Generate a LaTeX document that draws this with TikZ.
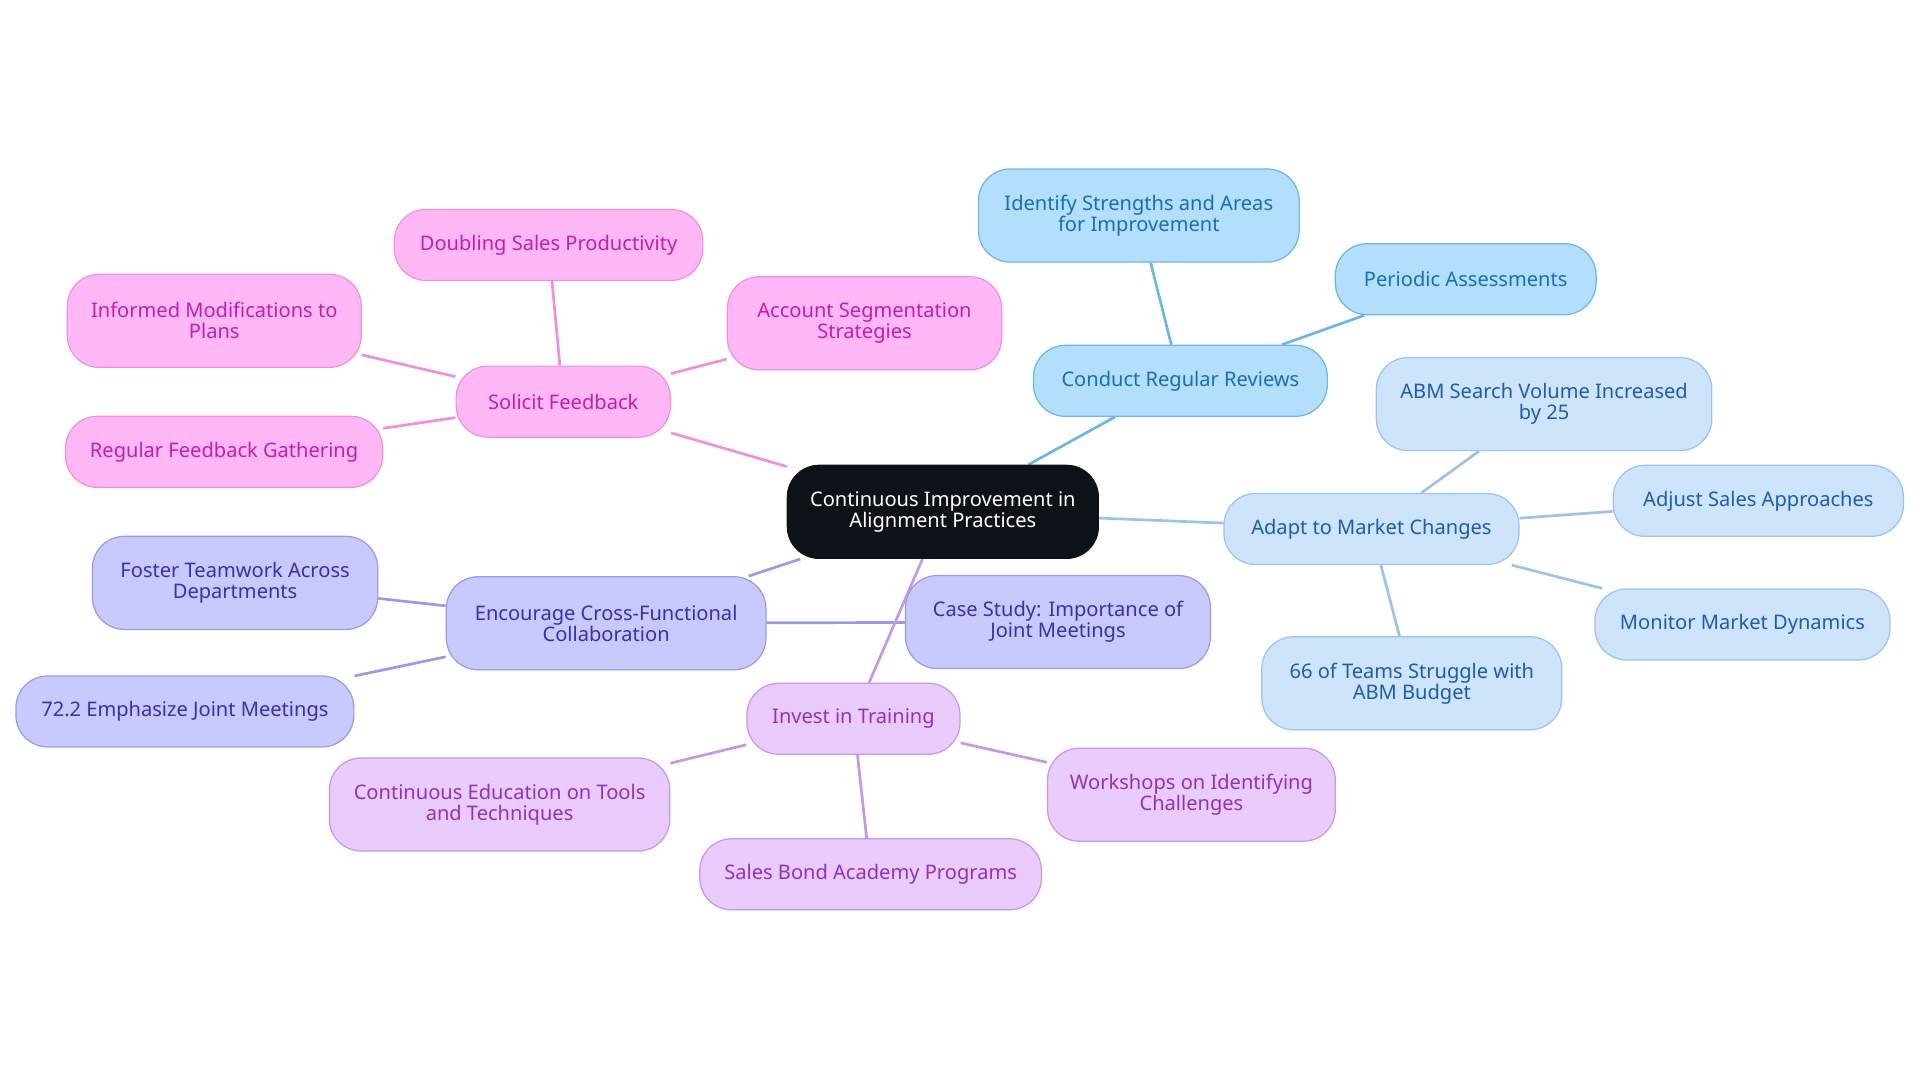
\documentclass[tikz,border=0pt]{standalone}
\usepackage{fontspec}
\setmainfont{Noto Sans}
\usetikzlibrary{backgrounds}
\definecolor{pkF}{HTML}{FFB8F5}\definecolor{pkD}{HTML}{EE90DE}\definecolor{pkT}{HTML}{C21DB0}
\definecolor{skF}{HTML}{B3DEFC}\definecolor{skD}{HTML}{6DB6E6}\definecolor{skT}{HTML}{1670B5}
\definecolor{lbF}{HTML}{CDE4FB}\definecolor{lbD}{HTML}{9CC3EB}\definecolor{lbT}{HTML}{1C5DB0}
\definecolor{lvF}{HTML}{C8C9FC}\definecolor{lvD}{HTML}{9A9AE8}\definecolor{lvT}{HTML}{3A2FAE}
\definecolor{puF}{HTML}{E9CBFC}\definecolor{puD}{HTML}{C697E8}\definecolor{puT}{HTML}{9231BE}
\definecolor{ctr}{HTML}{0D1218}
\tikzset{
 box/.style={rounded corners=13pt,draw,line width=0.5pt,align=center,font=\fontsize{8.2pt}{8.6pt}\selectfont,inner sep=0pt,minimum height=29pt},
 tall/.style={minimum height=38pt},
 pk/.style={box,fill=pkF,draw=pkD,text=pkT},
 sk/.style={box,fill=skF,draw=skD,text=skT},
 lb/.style={box,fill=lbF,draw=lbD,text=lbT},
 lv/.style={box,fill=lvF,draw=lvD,text=lvT},
 pu/.style={box,fill=puF,draw=puD,text=puT},
 ed/.style={line width=1.1pt},
}
\begin{document}
\begin{tikzpicture}[x=0.5pt,y=-0.5pt]
\useasboundingbox (0,0) rectangle (1568,884);
\node[box,tall,fill=ctr,draw=ctr,text=white,minimum width=127pt] (c) at (770,418) {Continuous Improvement in\\Alignment Practices};
\node[pk,minimum width=87.5pt] (sf) at (460,328) {Solicit Feedback};
\node[pk,minimum width=126pt] (ds) at (448,200) {Doubling Sales Productivity};
\node[pk,tall,minimum width=120pt] (im) at (175,262) {Informed Modifications to\\Plans};
\node[pk,tall,minimum width=112pt] (as) at (706,264) {Account Segmentation\\Strategies};
\node[pk,minimum width=129.5pt] (rf) at (183,369) {Regular Feedback Gathering};
\node[sk,minimum width=120pt] (cr) at (964,311) {Conduct Regular Reviews};
\node[sk,tall,minimum width=131pt] (is) at (930,176) {Identify Strengths and Areas\\for Improvement};
\node[sk,minimum width=106.5pt] (pa) at (1197,228) {Periodic Assessments};
\node[lb,minimum width=120.5pt] (am) at (1120,432) {Adapt to Market Changes};
\node[lb,tall,minimum width=137pt] (abm) at (1261,330) {ABM Search Volume Increased\\by 25};
\node[lb,minimum width=118.5pt] (adj) at (1436,409) {Adjust Sales Approaches};
\node[lb,minimum width=120.5pt] (mon) at (1423,510) {Monitor Market Dynamics};
\node[lb,tall,minimum width=122.5pt] (t66) at (1153,558) {66 of Teams Struggle with\\ABM Budget};
\node[lv,tall,minimum width=130.5pt] (en) at (495,509) {Encourage Cross-Functional\\Collaboration};
\node[lv,tall,minimum width=116.5pt] (fo) at (192,476) {Foster Teamwork Across\\Departments};
\node[lv,minimum width=138pt] (s72) at (151,581) {72.2 Emphasize Joint Meetings};
\node[lv,tall,minimum width=124.5pt] (cs) at (864,508) {Case Study: Importance of\\Joint Meetings};
\node[pu,minimum width=87pt] (it) at (697,587) {Invest in Training};
\node[pu,tall,minimum width=139pt] (ce) at (408,657) {Continuous Education on Tools\\and Techniques};
\node[pu,minimum width=139.5pt] (sb) at (711,714) {Sales Bond Academy Programs};
\node[pu,tall,minimum width=117.5pt] (ws) at (973,649) {Workshops on Identifying\\Challenges};
\begin{scope}[on background layer]
\draw[ed,pkD] (c)--(sf) (sf)--(ds) (sf)--(im) (sf)--(as) (sf)--(rf);
\draw[ed,skD] (c)--(cr) (cr)--(is) (cr)--(pa);
\draw[ed,lbD] (c)--(am) (am)--(abm) (am)--(adj) (am)--(mon) (am)--(t66);
\draw[ed,lvD] (c)--(en) (en)--(fo) (en)--(s72) (en)--(cs);
\draw[ed,puD] (c)--(it) (it)--(ce) (it)--(sb) (it)--(ws);
\end{scope}
\end{tikzpicture}
\end{document}
